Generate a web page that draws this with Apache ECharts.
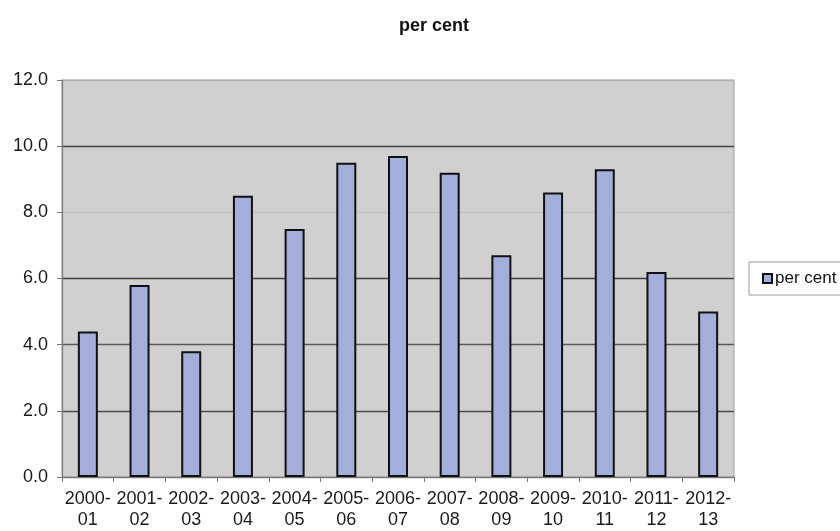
<!DOCTYPE html>
<html>
<head>
<meta charset="utf-8">
<script src="https://cdn.jsdelivr.net/npm/echarts@6/dist/echarts.min.js"></script>
<style>
  html, body { margin: 0; padding: 0; background: #ffffff; }
  #chart { width: 840px; height: 531px; }
</style>
</head>
<body>
<div id="chart"></div>
<script>
// Financial years shown along the horizontal axis
const years = ['2000-\n01', '2001-\n02', '2002-\n03', '2003-\n04', '2004-\n05', '2005-\n06',
  '2006-\n07', '2007-\n08', '2008-\n09', '2009-\n10', '2010-\n11', '2011-\n12', '2012-\n13'];

// Annual rate, per cent
const perCent = [4.4, 5.8, 3.8, 8.5, 7.5, 9.5, 9.7, 9.2, 6.7, 8.6, 9.3, 6.2, 5.0];

const seriesName = 'per cent';
const yMin = 0;
const yMax = 12;
const yStep = 2;

const font = 'Liberation Sans, Arial, Helvetica, sans-serif';

const chart = echarts.init(document.getElementById('chart'), null, { renderer: 'canvas' });

chart.setOption({
  animation: false,
  backgroundColor: '#ffffff',
  title: {
    text: seriesName,
    left: 429,
    top: 12,
    textAlign: 'center',
    textStyle: { fontFamily: font, fontSize: 18, fontWeight: 'bold', color: '#111' }
  },
  legend: {
    left: 749,
    top: 262,
    orient: 'vertical',
    data: [{ name: seriesName, icon: 'rect' }],
    itemWidth: 9,
    itemHeight: 9,
    padding: [8, 20, 8, 13],
    borderColor: '#9a9a9a',
    borderWidth: 1,
    backgroundColor: '#ffffff',
    textStyle: { fontFamily: font, fontSize: 17, color: '#111', padding: [0, 0, 0, -2] }
  },
  grid: {
    left: 62,
    right: 106,
    top: 80,
    bottom: 54,
    show: true,
    backgroundColor: '#d0d0d0',
    borderColor: '#a0a0a0',
    borderWidth: 1
  },
  xAxis: {
    type: 'category',
    data: years,
    boundaryGap: true,
    axisLine: { show: true, lineStyle: { color: '#7a7a7a', width: 1.2 } },
    axisTick: { show: true, length: 5, inside: false, lineStyle: { color: '#7a7a7a' } },
    axisLabel: {
      interval: 0,
      margin: 12,
      fontFamily: font,
      fontSize: 18,
      lineHeight: 21,
      color: '#1a1a1a'
    },
    splitLine: { show: false }
  },
  yAxis: {
    type: 'value',
    min: yMin,
    max: yMax,
    interval: yStep,
    axisLine: { show: true, lineStyle: { color: '#7a7a7a', width: 1.2 } },
    axisTick: { show: true, length: 5, inside: false, lineStyle: { color: '#7a7a7a' } },
    axisLabel: {
      margin: 14,
      fontFamily: font,
      fontSize: 18,
      color: '#1a1a1a',
      formatter: v => v.toFixed(1)
    },
    splitLine: {
      show: true,
      lineStyle: {
        color: ['#7a7a7a', '#4a4a4a', '#5a5a5a', '#404040', '#c2c2c2', '#404040', '#b0b0b0'],
        width: 1.4
      }
    }
  },
  series: [{
    name: seriesName,
    type: 'bar',
    data: perCent,
    barWidth: 20,
    itemStyle: {
      color: '#a3aedb',
      borderColor: '#111111',
      borderWidth: 2
    }
  }]
});
</script>
</body>
</html>
